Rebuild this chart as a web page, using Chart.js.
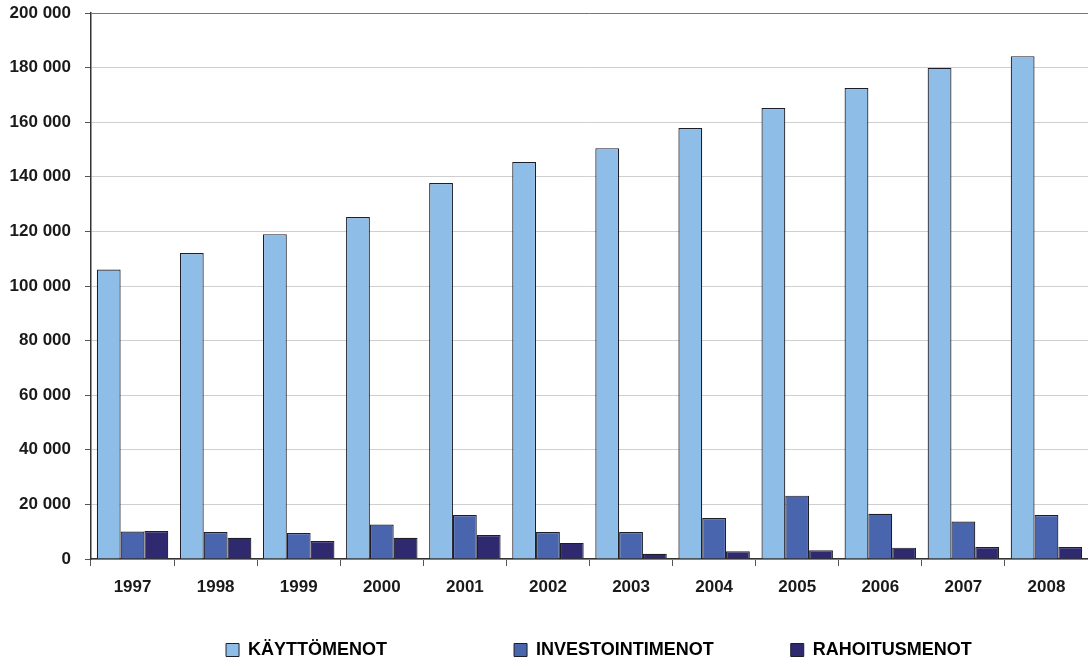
<!DOCTYPE html>
<html>
<head>
<meta charset="utf-8">
<script src="https://cdn.jsdelivr.net/npm/chart.js@4"></script>
<style>
  html, body { margin: 0; padding: 0; background: #fff; }
  #wrap { width: 1088px; height: 659px; }
</style>
</head>
<body>
<div id="wrap"><canvas id="myChart"></canvas></div>
<script>
// years on the x axis
const years = ['1997', '1998', '1999', '2000', '2001', '2002', '2003', '2004', '2005', '2006', '2007', '2008'];

// values
const kayttomenot = [106000, 112100, 119000, 125300, 137700, 145400, 150500, 157900, 165200, 172500, 179900, 184200];
const investointimenot = [10100, 9900, 9500, 12600, 16100, 9900, 9900, 15000, 23200, 16600, 13700, 16100];
const rahoitusmenot = [10250, 7800, 6600, 7800, 8800, 5900, 1950, 2800, 3200, 4150, 4400, 4400];

const fmt = (v) => String(v).replace(/\B(?=(\d{3})+(?!\d))/g, ' ');
const font = (size) => ({ family: 'Liberation Sans', size: size, weight: 'bold' });

const bar = (label, data, color) => ({
    label: label,
    data: data,
    backgroundColor: color,
    borderColor: '#1e1e28',
    borderWidth: 1.2,
    borderSkipped: 'bottom',
    categoryPercentage: 0.86,
    barPercentage: 1.0
});

// trailing spaces keep the legend items apart like in the original
const legendGap = [25, 15, 0];

new Chart(document.getElementById('myChart'), {
    type: 'bar',
    data: {
        labels: years,
        datasets: [
            bar('KÄYTTÖMENOT', kayttomenot, '#8ebee8'),
            bar('INVESTOINTIMENOT', investointimenot, '#4865ae'),
            bar('RAHOITUSMENOT', rahoitusmenot, '#2f2a70')
        ]
    },
    options: {
        responsive: true,
        maintainAspectRatio: false,
        animation: false,
        layout: { padding: { top: 0, right: 0, left: 0, bottom: 0 } },
        plugins: {
            tooltip: { enabled: false },
            legend: {
                position: 'bottom',
                align: 'start',
                maxHeight: 20,
                labels: {
                    color: '#1a1a1a',
                    font: font(18),
                    boxWidth: 13,
                    boxHeight: 13,
                    padding: 2,
                    generateLabels: (chart) => {
                        // invisible spacer pushes the row to the right
                        const items = [{
                            text: ' '.repeat(40),
                            fillStyle: 'rgba(0,0,0,0)',
                            strokeStyle: 'rgba(0,0,0,0)',
                            lineWidth: 0
                        }];
                        chart.data.datasets.forEach((ds, i) => items.push({
                            text: ds.label + ' '.repeat(legendGap[i]),
                            fillStyle: ds.backgroundColor,
                            strokeStyle: '#1e1e28',
                            lineWidth: 1,
                            datasetIndex: i
                        }));
                        return items;
                    }
                }
            }
        },
        scales: {
            x: {
                afterFit: (scale) => { scale.height = 80; },
                grid: {
                    display: true,
                    offset: true,
                    drawOnChartArea: false,
                    drawTicks: true,
                    tickLength: 7,
                    color: '#555'
                },
                border: { color: '#333', width: 1.5 },
                ticks: {
                    color: '#1a1a1a',
                    padding: 11,
                    font: font(17)
                }
            },
            y: {
                min: 0,
                max: 200000,
                afterFit: (scale) => {
                    scale.width = 91;
                    scale.paddingTop = 13;
                },
                ticks: {
                    stepSize: 20000,
                    color: '#1a1a1a',
                    padding: 14,
                    font: font(17),
                    callback: (v) => fmt(v)
                },
                grid: {
                    color: (ctx) => ctx.tick && ctx.tick.value === 200000 ? '#777' : '#cfcfcf',
                    tickColor: '#555',
                    tickLength: 6,
                    lineWidth: 1
                },
                border: { color: '#333', width: 1.5 }
            }
        }
    }
});
</script>
</body>
</html>
